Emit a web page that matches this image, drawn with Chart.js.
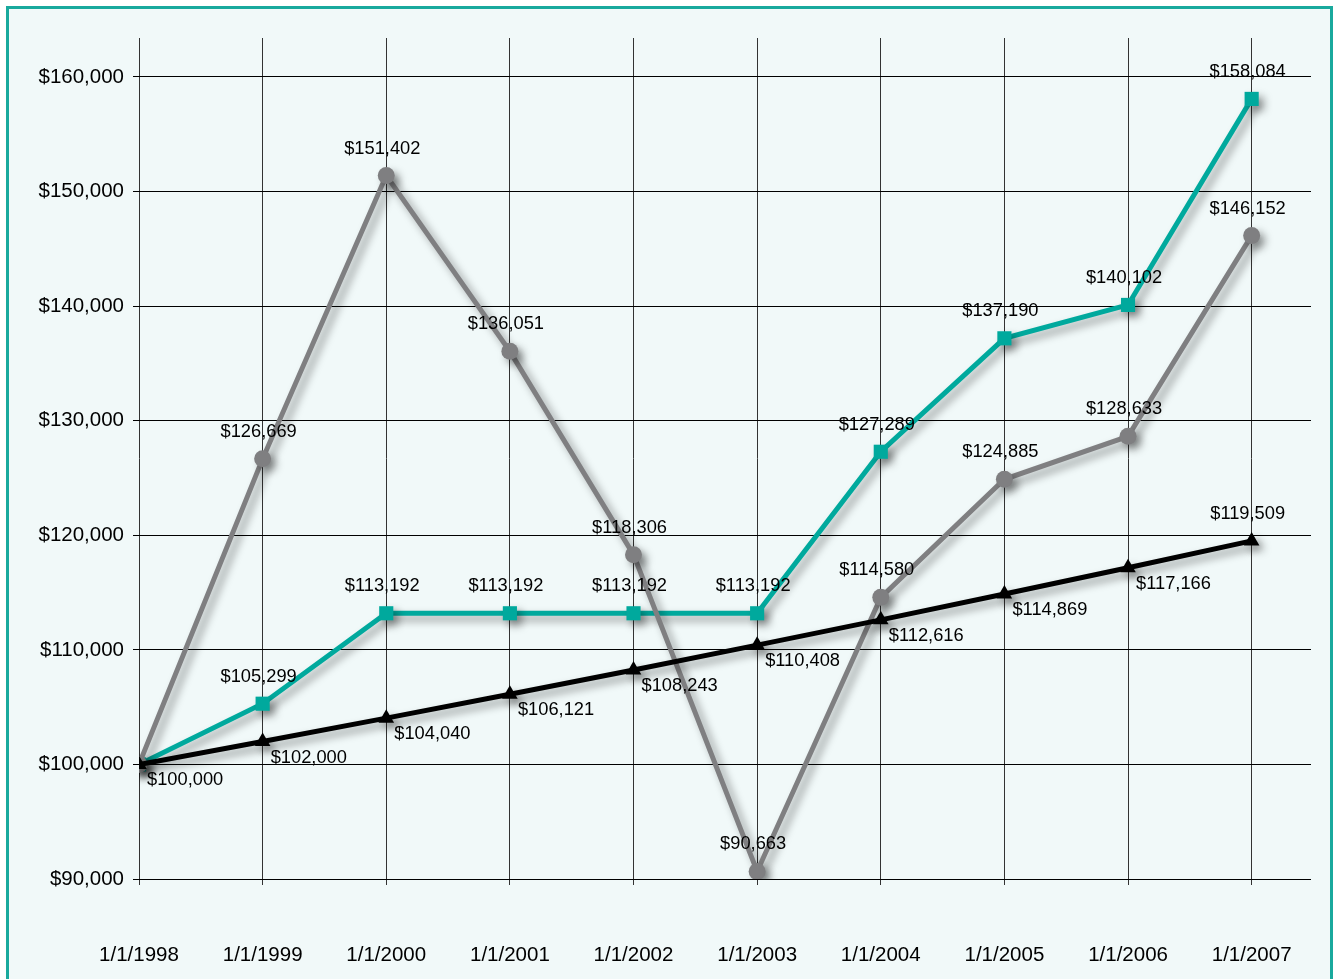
<!DOCTYPE html>
<html>
<head>
<meta charset="utf-8">
<script src="https://cdn.jsdelivr.net/npm/chart.js@4"></script>
<style>
html, body { margin: 0; padding: 0; background: #fff; overflow: hidden; }
#frame {
    position: absolute; left: 6px; top: 6px; width: 1327px; height: 990px;
    border: 3px solid #19a99d; background: #f1f9f9; box-sizing: border-box;
}
#wrap { position: absolute; left: 0; top: 0; width: 1333px; height: 979px; }
</style>
</head>
<body>
<div id="frame"></div>
<div id="wrap"><canvas id="lineChart"></canvas></div>
<script>
const categories = ['1/1/1998', '1/1/1999', '1/1/2000', '1/1/2001', '1/1/2002',
                    '1/1/2003', '1/1/2004', '1/1/2005', '1/1/2006', '1/1/2007'];
const tealValues = [100000, 105299, 113192, 113192, 113192, 113192, 127289, 137190, 140102, 158084];
const grayValues = [100000, 126669, 151402, 136051, 118306, 90663, 114580, 124885, 128633, 146152];
const blackValues = [100000, 102000, 104040, 106121, 108243, 110408, 112616, 114869, 117166, 119509];
const yTicks = [90000, 100000, 110000, 120000, 130000, 140000, 150000, 160000];

function money(v) {
    return '$' + Math.round(v).toLocaleString('en-US');
}

function toPoints(values) {
    return values.map((v, i) => ({ x: i, y: v }));
}

// sombra bajo las lineas
const shadowPlugin = {
    id: 'shadow',
    beforeDatasetDraw(chart) {
        const ctx = chart.ctx;
        ctx.save();
        ctx.shadowColor = 'rgba(0,0,0,0.4)';
        ctx.shadowBlur = 9;
        ctx.shadowOffsetX = 5;
        ctx.shadowOffsetY = 5;
    },
    afterDatasetDraw(chart) {
        chart.ctx.restore();
    }
};

// etiquetas de valores
const valueLabels = {
    id: 'valueLabels',
    afterDatasetsDraw(chart) {
        const ctx = chart.ctx;
        ctx.save();
        ctx.font = '18.3px "Liberation Sans", Arial, sans-serif';
        ctx.fillStyle = '#000';
        ctx.textBaseline = 'middle';
        chart.data.datasets.forEach((ds, di) => {
            const meta = chart.getDatasetMeta(di);
            const last = meta.data.length - 1;
            meta.data.forEach((pt, i) => {
                if (ds.skipFirstLabel && i === 0) return;
                const v = ds.data[i].y;
                if (ds.labelPos === 'below' && i !== last) {
                    ctx.textAlign = 'left';
                    ctx.fillText(money(v), pt.x + 8, pt.y + 16);
                } else {
                    ctx.textAlign = 'center';
                    ctx.fillText(money(v), pt.x - 4, pt.y - 27);
                }
            });
        });
        ctx.restore();
    }
};

const ctx = document.getElementById('lineChart').getContext('2d');
new Chart(ctx, {
    type: 'line',
    data: {
        datasets: [{
            data: toPoints(blackValues),
            borderColor: '#000',
            backgroundColor: '#000',
            borderWidth: 5,
            pointStyle: 'triangle',
            pointRadius: 9,
            pointBorderWidth: 0,
            labelPos: 'below',
            order: 0
        }, {
            data: toPoints(grayValues),
            borderColor: '#7f7f81',
            backgroundColor: '#7f7f81',
            borderWidth: 5,
            pointStyle: 'circle',
            pointRadius: 8.5,
            pointBorderWidth: 0,
            labelPos: 'above',
            skipFirstLabel: true,
            order: 1
        }, {
            data: toPoints(tealValues),
            borderColor: '#00a99d',
            backgroundColor: '#00a99d',
            borderWidth: 5,
            pointStyle: 'rect',
            pointRadius: 10,
            pointBorderWidth: 0,
            labelPos: 'above',
            skipFirstLabel: true,
            order: 2
        }]
    },
    options: {
        responsive: true,
        maintainAspectRatio: false,
        animation: false,
        layout: { padding: { top: 38, right: 22, left: 0, bottom: 0 } },
        plugins: {
            legend: { display: false },
            tooltip: { enabled: false }
        },
        elements: { line: { tension: 0 } },
        scales: {
            x: {
                type: 'linear',
                min: 0,
                max: 9.48,
                afterBuildTicks(scale) {
                    scale.ticks = categories.map((c, i) => ({ value: i }));
                },
                afterFit(scale) {
                    scale.height = 100;
                    scale.paddingLeft = 0;
                    scale.paddingRight = 0;
                },
                ticks: {
                    autoSkip: false,
                    maxRotation: 0,
                    padding: 58,
                    color: '#000',
                    font: { family: '"Liberation Sans", Arial, sans-serif', size: 20.5 },
                    callback: v => categories[v]
                },
                grid: { color: '#333', lineWidth: 1, tickLength: 6 },
                border: { display: false }
            },
            y: {
                min: 90000,
                max: 163400,
                afterBuildTicks(scale) {
                    scale.ticks = yTicks.map(v => ({ value: v }));
                },
                afterFit(scale) {
                    scale.width = 139;
                    scale.paddingTop = 0;
                    scale.paddingBottom = 0;
                },
                ticks: {
                    padding: 9,
                    color: '#000',
                    font: { family: '"Liberation Sans", Arial, sans-serif', size: 20.5 },
                    callback: v => money(v)
                },
                grid: { color: '#000', lineWidth: 1, tickLength: 6 },
                border: { display: false }
            }
        }
    },
    plugins: [shadowPlugin, valueLabels]
});
</script>
</body>
</html>
